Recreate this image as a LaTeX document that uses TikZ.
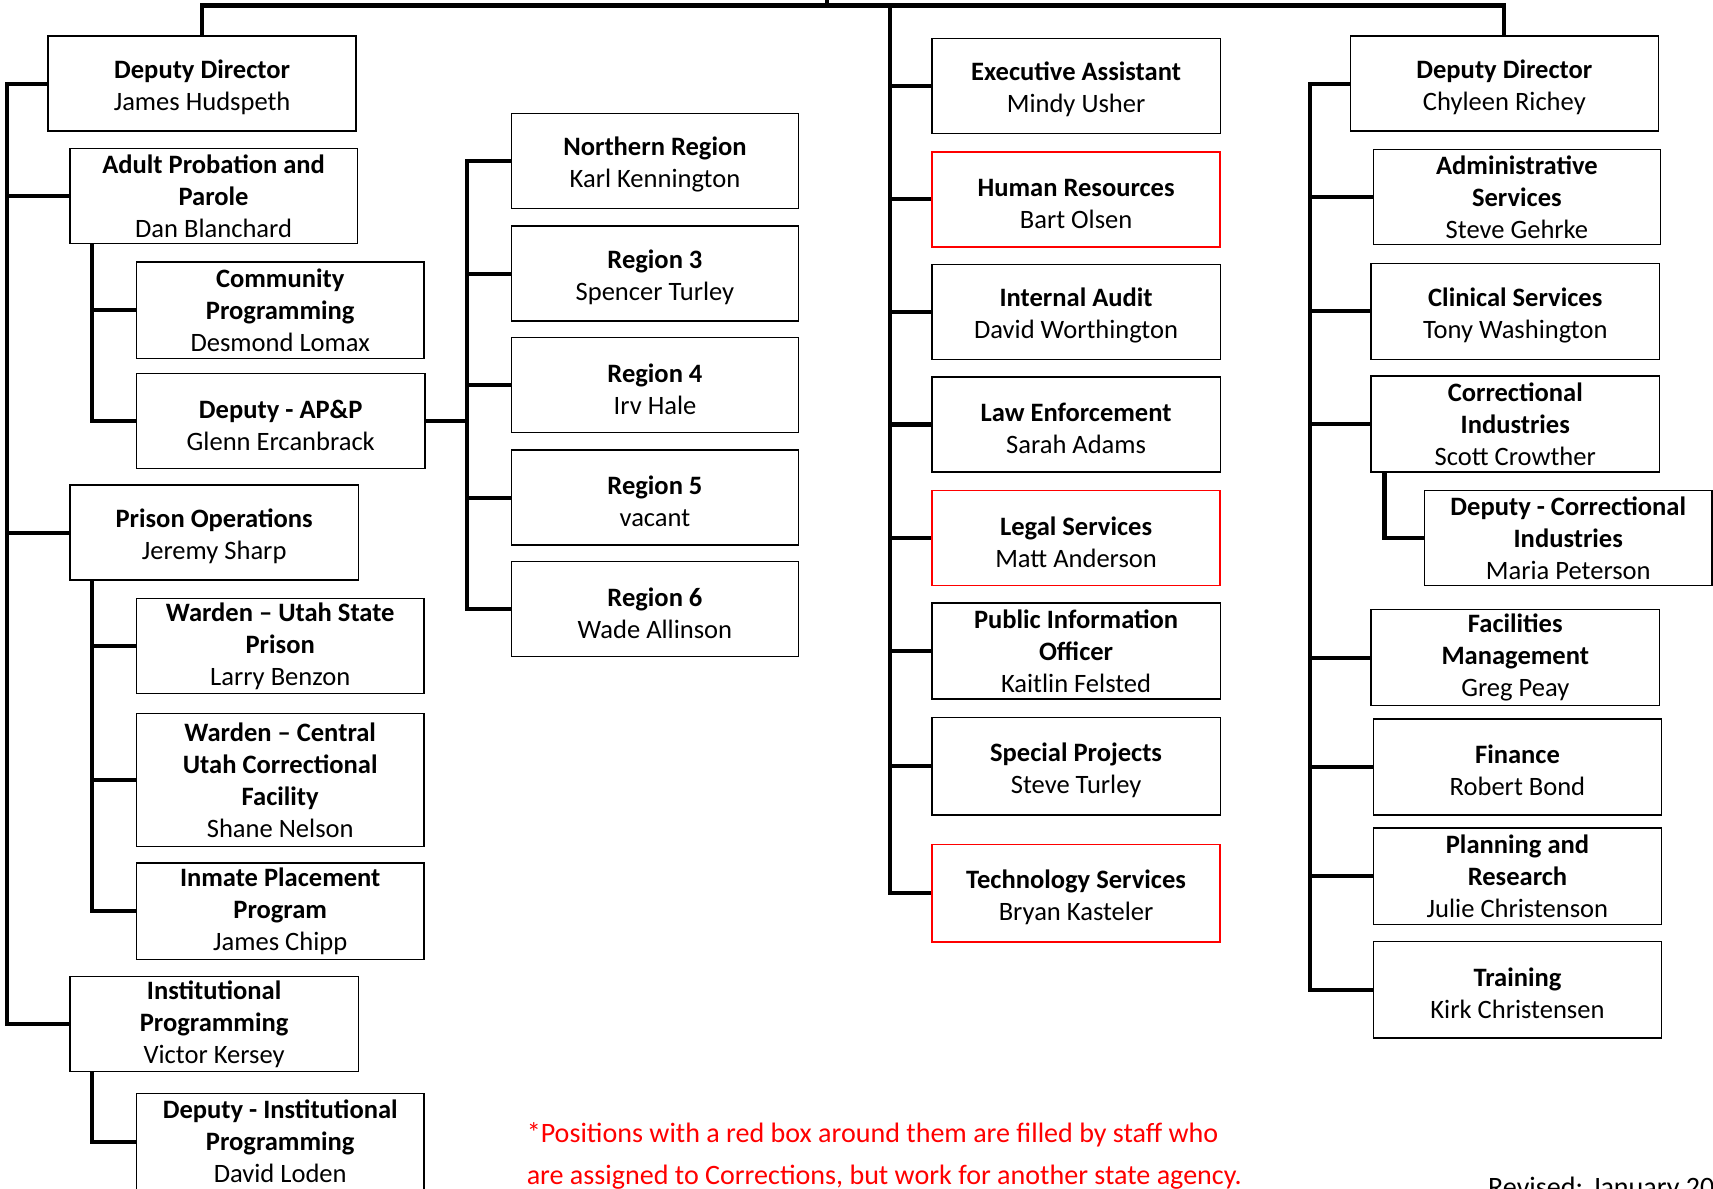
\documentclass[tikz,border=0pt]{standalone}
\usepackage{fontspec}
\setmainfont{Carlito}
\newcommand\fsz{\fontsize{24.3pt}{29.3pt}\selectfont}
\newcommand\fnsz{\fontsize{25.7pt}{31pt}\selectfont}
\newcommand\tstr{\rule{0pt}{24pt}}
\begin{document}
\begin{tikzpicture}[x=1pt,y=-1pt,
  box/.style={draw=black, line width=1.3pt, inner sep=0pt, align=center, font=\fsz,
              minimum width=263pt, minimum height=87pt},
  redbox/.style={box, draw=red, line width=1.5pt},
  conn/.style={line width=3.8pt, line join=miter},
  note/.style={anchor=base west, inner sep=0pt, font=\fnsz}]
\useasboundingbox (0,0) rectangle (1568,1088);

% ---------- left column ----------
\node[box, minimum width=282pt] (dd1) at (185,76.5) {\tstr\textbf{Deputy Director}\\James Hudspeth};
\node[box] (app) at (195.5,179.5) {\textbf{Adult Probation and}\\\textbf{Parole}\\Dan Blanchard};
\node[box, minimum height=88pt] (comm) at (256.5,284) {\textbf{Community}\\\textbf{Programming}\\Desmond Lomax};
\node[box, minimum width=264pt] (dapp) at (257,385.5) {\tstr\textbf{Deputy - AP\&P}\\Glenn Ercanbrack};
\node[box] (north) at (599.5,147.5) {\tstr\textbf{Northern Region}\\Karl Kennington};
\node[box] (r3) at (599.5,250.5) {\tstr\textbf{Region 3}\\Spencer Turley};
\node[box] (r4) at (599.5,352.5) {\tstr\textbf{Region 4}\\Irv Hale};
\node[box] (r5) at (599.5,455.5) {\tstr\textbf{Region 5}\\vacant};
\node[box] (r6) at (599.5,557.5) {\tstr\textbf{Region 6}\\Wade Allinson};
\node[box, minimum width=264pt] (pops) at (196,487.5) {\tstr\textbf{Prison Operations}\\Jeremy Sharp};
\node[box] (wusp) at (256.5,591.5) {\textbf{Warden – Utah State}\\\textbf{Prison}\\Larry Benzon};
\node[box, minimum height=122pt] (wcucf) at (256.5,714) {\textbf{Warden – Central}\\\textbf{Utah Correctional}\\\textbf{Facility}\\Shane Nelson};
\node[box, minimum height=88pt] (ipp) at (256.5,834) {\textbf{Inmate Placement}\\\textbf{Program}\\James Chipp};
\node[box, minimum width=264pt] (instp) at (196,937.5) {\textbf{Institutional}\\\textbf{Programming}\\Victor Kersey};
\node[box, minimum height=88pt] (dinst) at (256.5,1045) {\textbf{Deputy - Institutional}\\\textbf{Programming}\\David Loden};

% ---------- middle column ----------
\node[box, minimum width=264pt] (ea) at (985,78.5) {\tstr\textbf{Executive Assistant}\\Mindy Usher};
\node[redbox, minimum width=264pt] (hr) at (985,182.5) {\tstr\textbf{Human Resources}\\Bart Olsen};
\node[box, minimum width=264pt] (ia) at (985,285.5) {\tstr\textbf{Internal Audit}\\David Worthington};
\node[box, minimum width=264pt] (le) at (985,388.5) {\tstr\textbf{Law Enforcement}\\Sarah Adams};
\node[redbox, minimum width=264pt] (ls) at (985,492.5) {\tstr\textbf{Legal Services}\\Matt Anderson};
\node[box, minimum width=264pt, minimum height=88pt] (pio) at (985,596) {\textbf{Public Information}\\\textbf{Officer}\\Kaitlin Felsted};
\node[box, minimum width=264pt, minimum height=89pt] (sp) at (985,701.5) {\tstr\textbf{Special Projects}\\Steve Turley};
\node[redbox, minimum width=264pt, minimum height=89pt] (ts) at (985,817.5) {\tstr\textbf{Technology Services}\\Bryan Kasteler};

% ---------- right column ----------
\node[box, minimum width=282pt] (dd2) at (1377,76.5) {\tstr\textbf{Deputy Director}\\Chyleen Richey};
\node[box] (adm) at (1388.5,180.5) {\textbf{Administrative}\\\textbf{Services}\\Steve Gehrke};
\node[box, minimum width=264pt, minimum height=88pt] (clin) at (1387,285) {\tstr\textbf{Clinical Services}\\Tony Washington};
\node[box, minimum width=264pt, minimum height=88pt] (ci) at (1387,388) {\textbf{Correctional}\\\textbf{Industries}\\Scott Crowther};
\node[box] (dci) at (1435.5,492.5) {\textbf{Deputy - Correctional}\\\textbf{Industries}\\Maria Peterson};
\node[box, minimum width=264pt, minimum height=88pt] (fm) at (1387,602) {\textbf{Facilities}\\\textbf{Management}\\Greg Peay};
\node[box, minimum width=264pt, minimum height=88pt] (fin) at (1389,702) {\tstr\textbf{Finance}\\Robert Bond};
\node[box, minimum width=264pt, minimum height=88pt] (pr) at (1389,802) {\textbf{Planning and}\\\textbf{Research}\\Julie Christenson};
\node[box, minimum width=264pt, minimum height=88pt] (tr) at (1389,906) {\tstr\textbf{Training}\\Kirk Christensen};

% ---------- connectors ----------
\coordinate (dir) at (757,-10);
\coordinate (bar) at (757,5);
\draw[conn] (dir) -- (bar);
\draw[conn] (dd1.north) |- (bar) -| (dd2.north);

% left trunk
\coordinate (lt) at ([xshift=-37pt]dd1.west);
\draw[conn] (dd1.west) -- (lt) |- (instp.west);
\draw[conn] (lt) |- (app.west);
\draw[conn] (lt) |- (pops.west);

\coordinate (appT) at ([xshift=21pt]app.south west);
\draw[conn] (appT) |- (dapp.west);
\draw[conn] (appT) |- (comm.west);

\coordinate (rgT) at ([xshift=-40pt]north.west);
\draw[conn] (north.west) -- (rgT) |- (r6.west);
\draw[conn] (rgT) |- (r3.west);
\draw[conn] (rgT) |- (r4.west);
\draw[conn] (rgT) |- (r5.west);
\draw[conn] (dapp.east) -- (dapp.east -| rgT);

\coordinate (popT) at ([xshift=21pt]pops.south west);
\draw[conn] (popT) |- (ipp.west);
\draw[conn] (popT) |- (wusp.west);
\draw[conn] (popT) |- (wcucf.west);

\coordinate (insT) at ([xshift=21pt]instp.south west);
\draw[conn] (insT) |- (dinst.west);

% middle trunk
\path (bar -| ea.west) ++(-38,0) coordinate (mt);
\draw[conn] (mt) |- (ts.west);
\foreach \n in {ea,hr,ia,le,ls,pio,sp} \draw[conn] (mt) |- (\n.west);

% right trunk
\coordinate (rk) at ([xshift=-36pt]dd2.west);
\draw[conn] (dd2.west) -- (rk) |- (tr.west);
\foreach \n in {adm,clin,ci,fm,fin,pr} \draw[conn] (rk) |- (\n.west);

\coordinate (ciT) at ([xshift=13pt]ci.south west);
\draw[conn] (ciT) |- (dci.west);

% ---------- notes ----------
\node[note, text=red] (fn1) at (482,1046) {*Positions with a red box around them are filled by staff who};
\node[note, text=red] (fn2) at (482,1084) {are assigned to Corrections, but work for another state agency.};
\node[note] (rev) at (1362,1095) {Revised: January 20};
\end{tikzpicture}
\end{document}
